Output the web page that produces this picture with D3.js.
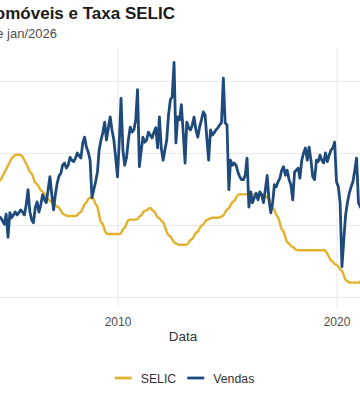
<!DOCTYPE html>
<html>
<head>
<meta charset="utf-8">
<script src="https://cdn.jsdelivr.net/npm/d3@7/dist/d3.min.js"></script>
<style>
  body { margin: 0; background: #fff; }
  svg { display: block; font-family: "Liberation Sans", Arial, sans-serif; }
</style>
</head>
<body>
<svg id="svg"></svg>
<script>

var width = 360;
var height = 403;

// ---- dados ----
var mesInicial = "2004-06";

// vendas mensais (mil unidades)
var vendas = [
    112, 110, 112, 110, 106, 101, 115,                         // 2004 jun-dez
    83, 117, 110, 114, 118, 114, 117, 121, 118, 114, 128, 149, // 2005
    118, 107, 103, 124, 132, 118, 128, 142, 135, 131, 149, 167, // 2006
    142, 121, 142, 158, 168, 172, 183, 186, 179, 183, 194, 190, // 2007
    188, 193, 200, 196, 193, 214, 222, 208, 201, 190, 138, 149, // 2008
    160, 174, 204, 218, 228, 243, 218, 235, 250, 232, 218, 194, // 2009
    167, 218, 276, 204, 183, 194, 218, 236, 229, 232, 246, 288, // 2010
    181, 204, 222, 215, 218, 229, 225, 221, 229, 235, 207, 250, // 2011
    207, 190, 204, 218, 253, 274, 278, 326, 214, 250, 246, 267, // 2012
    228, 186, 243, 235, 232, 239, 250, 232, 222, 236, 246, 257, // 2013
    253, 218, 190, 232, 225, 228, 232, 235, 239, 242, 304, 242, // 2014
    239, 149, 190, 183, 186, 183, 174, 167, 163, 163, 169, 193, // 2015
    125, 146, 131, 138, 144, 135, 146, 142, 131, 149, 169, 135, // 2016
    117, 131, 156, 153, 160, 165, 176, 181, 169, 176, 163, 156, // 2017
    135, 174, 176, 179, 165, 190, 200, 207, 190, 208, 190, 167, // 2018
    163, 190, 188, 197, 190, 186, 200, 188, 197, 204, 207, 215, // 2019
    160, 153, 131, 42, 79, 114, 131, 144, 153, 160, 176, 193,   // 2020
    131, 125, 128                                               // 2021 jan-mar
];

// taxa SELIC meta (% a.a.)
var selic = [
    16, 16, 16, 16.25, 16.75, 17.25, 17.75,
    18.25, 18.75, 19.25, 19.5, 19.75, 19.75, 19.75, 19.75, 19.5, 19, 18.5, 18,
    17.25, 17.25, 16.5, 15.75, 15.75, 15.25, 14.75, 14.75, 14.25, 13.75, 13.75, 13.25,
    13.25, 13, 12.75, 12.5, 12.5, 12, 11.5, 11.5, 11.25, 11.25, 11.25, 11.25,
    11.25, 11.25, 11.25, 11.75, 11.75, 12.25, 13, 13, 13.75, 13.75, 13.75, 13.75,
    12.75, 12.75, 11.25, 10.25, 10.25, 9.25, 8.75, 8.75, 8.75, 8.75, 8.75, 8.75,
    8.75, 8.75, 8.75, 9.5, 9.5, 10.25, 10.75, 10.75, 10.75, 10.75, 10.75, 10.75,
    11.25, 11.25, 11.75, 12, 12, 12.25, 12.5, 12, 12, 11.5, 11, 11,
    10.5, 10.5, 9.75, 9, 8.5, 8.5, 8, 7.5, 7.5, 7.25, 7.25, 7.25,
    7.25, 7.25, 7.25, 7.5, 8, 8, 8.5, 9, 9, 9.5, 10, 10,
    10.5, 10.75, 10.75, 11, 11, 11, 11, 11, 11, 11.25, 11.25, 11.75,
    12.25, 12.25, 12.75, 13.25, 13.25, 13.75, 14.25, 14.25, 14.25, 14.25, 14.25, 14.25,
    14.25, 14.25, 14.25, 14.25, 14.25, 14.25, 14.25, 14.25, 14.25, 14, 13.75, 13.75,
    13, 12.25, 12.25, 11.25, 11.25, 10.25, 9.25, 9.25, 8.25, 7.5, 7.5, 7,
    7, 6.75, 6.5, 6.5, 6.5, 6.5, 6.5, 6.5, 6.5, 6.5, 6.5, 6.5,
    6.5, 6.5, 6.5, 6.5, 6.5, 6.5, 6.5, 6, 5.5, 5, 5, 4.5,
    4.5, 4.25, 3.75, 3.75, 3, 2.25, 2.25, 2, 2, 2, 2, 2,
    2, 2, 2.75
];

var anosTicks = ["2010", "2020"];
var gradeVendas = [0, 100, 200, 300];
var series = ["SELIC", "Vendas"];
var cores = ["#E3B12B", "#1F4A7C"];

var titulo = "Vendas de Automóveis e Taxa SELIC";
var subtitulo = "Série mensal, dados até o mês de jan/2026";

// painel (o grafico original foi recortado, a esquerda fica fora da tela)
var panel = { left: -80, right: 430, top: 48, bottom: 307 };

var svg;
var x, yVendas, ySelic;
var datas;

function initSVG(){
    svg = d3.select("#svg")
        .attr("width", width)
        .attr("height", height);
}

function initScales(){
    var parseMes = d3.timeParse("%Y-%m");
    var inicio = parseMes(mesInicial);
    datas = vendas.map(function(v, i){ return d3.timeMonth.offset(inicio, i); });

    // escala de tempo, extrapola alem do dominio
    x = d3.scaleTime()
        .domain([new Date(2010, 0, 1), new Date(2020, 0, 1)])
        .range([117.5, 336.5]);

    yVendas = d3.scaleLinear().domain([0, 300]).range([297, 81]);
    // eixo secundario: SELIC 0-30
    ySelic = d3.scaleLinear().domain([0, 30]).range([297, 81]);
}

function drawGrid(){
    // so as linhas de grade; os rotulos do eixo y ficam fora do recorte
    var gy = svg.append("g")
        .attr("transform", "translate(" + panel.left + ",0)")
        .call(d3.axisLeft(yVendas)
            .tickValues(gradeVendas)
            .tickFormat("")
            .tickSize(-(panel.right - panel.left)));
    gy.select(".domain").remove();
    gy.selectAll("text").remove();
    gy.selectAll("line").attr("stroke", "#e6e6e6").attr("stroke-width", 0.9);

    var anos = anosTicks.map(function(a){ return new Date(+a, 0, 1); });
    var gx = svg.append("g")
        .attr("transform", "translate(0," + panel.bottom + ")")
        .call(d3.axisBottom(x)
            .tickValues(anos)
            .tickFormat(d3.timeFormat("%Y"))
            .tickSize(-(panel.bottom - panel.top))
            .tickPadding(10));
    gx.select(".domain").remove();
    gx.selectAll("line").attr("stroke", "#e6e6e6").attr("stroke-width", 0.9);
    gx.selectAll("text")
        .attr("fill", "#4d4d4d")
        .style("font-size", "12px");

    svg.append("text")
        .attr("x", 183)
        .attr("y", 341)
        .attr("text-anchor", "middle")
        .attr("fill", "#333")
        .style("font-size", "13.5px")
        .text("Data");
}

function drawLines(){
    var linhaSelic = d3.line()
        .x(function(d, i){ return x(datas[i]); })
        .y(function(d){ return ySelic(d); })
        .curve(d3.curveBasis);

    var linhaVendas = d3.line()
        .x(function(d, i){ return x(datas[i]); })
        .y(function(d){ return yVendas(d); })
        .curve(d3.curveLinear);

    svg.append("path")
        .datum(selic)
        .attr("fill", "none")
        .attr("stroke", cores[0])
        .attr("stroke-width", 2.4)
        .attr("stroke-linejoin", "round")
        .attr("d", linhaSelic);

    svg.append("path")
        .datum(vendas)
        .attr("fill", "none")
        .attr("stroke", cores[1])
        .attr("stroke-width", 2.8)
        .attr("stroke-linejoin", "round")
        .attr("d", linhaVendas);
}

function drawTitles(){
    svg.append("text")
        .attr("x", 175)
        .attr("y", 19)
        .attr("text-anchor", "end")
        .attr("fill", "#1a1a1a")
        .style("font-size", "17px")
        .style("font-weight", "bold")
        .text(titulo);

    svg.append("text")
        .attr("x", 57)
        .attr("y", 38)
        .attr("text-anchor", "end")
        .attr("fill", "#4d4d4d")
        .style("font-size", "13px")
        .text(subtitulo);
}

function drawLegend(){
    var keyW = 17, gap = 9, spacing = 11;
    var leg = svg.append("g");

    var itens = leg.selectAll("g").data(series).enter().append("g");
    itens.append("line")
        .attr("x1", 0).attr("x2", keyW)
        .attr("y1", 0).attr("y2", 0)
        .attr("stroke", function(d, i){ return cores[i]; })
        .attr("stroke-width", 2.8);
    itens.append("text")
        .attr("x", keyW + gap)
        .attr("y", 4.5)
        .attr("fill", "#333")
        .style("font-size", "12.3px")
        .text(function(d){ return d; });

    // posiciona itens lado a lado e centraliza
    var pos = 0;
    itens.each(function(){
        var g = d3.select(this);
        var w = keyW + gap + g.select("text").node().getComputedTextLength();
        g.attr("transform", "translate(" + pos + ",0)");
        pos += w + spacing;
    });
    var total = pos - spacing;
    leg.attr("transform", "translate(" + (184.5 - total / 2) + ",378)");
}

function init(){
    initSVG();
    initScales();
    drawGrid();
    drawLines();
    drawTitles();
    drawLegend();
}

document.addEventListener("DOMContentLoaded", function(event){
    init();
});

</script>
</body>
</html>
